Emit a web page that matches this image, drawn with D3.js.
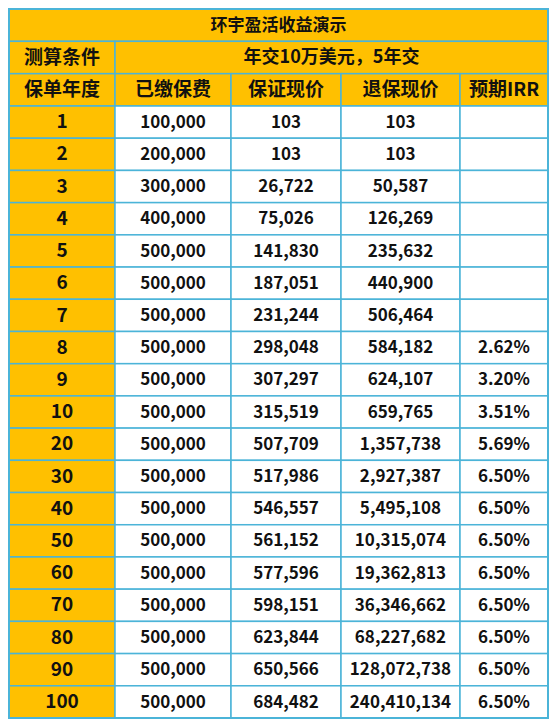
<!DOCTYPE html>
<html>
<head>
<meta charset="utf-8" />
<script src="https://cdnjs.cloudflare.com/ajax/libs/d3/7.8.5/d3.min.js"></script>
<style>
body { margin: 0; padding: 0; background: #fff; }
text { font-family: "Noto Sans CJK SC", "Noto Sans", sans-serif; font-weight: bold; fill: #111; }
</style>
</head>
<body>
<svg id="chart" width="556" height="721"></svg>
<script>
var title = "环宇盈活收益演示";
var condLabel = "测算条件";
var condValue = "年交10万美元，5年交";
var headers = ["保单年度", "已缴保费", "保证现价", "退保现价", "预期IRR"];
var years = ["1","2","3","4","5","6","7","8","9","10","20","30","40","50","60","70","80","90","100"];
var paid = ["100,000","200,000","300,000","400,000","500,000","500,000","500,000","500,000","500,000","500,000","500,000","500,000","500,000","500,000","500,000","500,000","500,000","500,000","500,000"];
var guaranteed = ["103","103","26,722","75,026","141,830","187,051","231,244","298,048","307,297","315,519","507,709","517,986","546,557","561,152","577,596","598,151","623,844","650,566","684,482"];
var surrender = ["103","103","50,587","126,269","235,632","440,900","506,464","584,182","624,107","659,765","1,357,738","2,927,387","5,495,108","10,315,074","19,362,813","36,346,662","68,227,682","128,072,738","240,410,134"];
var irr = ["","","","","","","","2.62%","3.20%","3.51%","5.69%","6.50%","6.50%","6.50%","6.50%","6.50%","6.50%","6.50%","6.50%"];

var orange = "#FFC000", line = "#4BB4D8";
var svg = d3.select("#chart");
var colEdges = [9, 115, 231, 341, 460, 548];
var x = function(i){ return colEdges[i]; };
var nRows = 3 + years.length;
var y = d3.scaleLinear().domain([0, 3, nRows]).range([9, 106, 718]);

function cell(c0, c1, r, txt, fill, size) {
  svg.append("rect").attr("x", x(c0)).attr("y", y(r))
    .attr("width", x(c1) - x(c0)).attr("height", y(r + 1) - y(r))
    .attr("fill", fill).attr("stroke", line).attr("stroke-width", 1.5);
  svg.append("text").attr("x", (x(c0) + x(c1)) / 2).attr("y", (y(r) + y(r + 1)) / 2 + 1)
    .attr("text-anchor", "middle").attr("dominant-baseline", "middle")
    .attr("font-size", size || 17).text(txt);
}

cell(0, 5, 0, title, orange, 17);
cell(0, 1, 1, condLabel, orange, 19);
cell(1, 5, 1, condValue, orange, 18);
headers.forEach(function(h, i){ cell(i, i + 1, 2, h, orange, 19); });
years.forEach(function(yr, i){
  var r = 3 + i;
  cell(0, 1, r, yr, orange, 19);
  cell(1, 2, r, paid[i], "#fff", 17);
  cell(2, 3, r, guaranteed[i], "#fff", 17);
  cell(3, 4, r, surrender[i], "#fff", 17);
  cell(4, 5, r, irr[i], "#fff", 17);
});
svg.append("rect").attr("x", x(0)).attr("y", y(0)).attr("width", x(5) - x(0)).attr("height", y(nRows) - y(0))
  .attr("fill", "none").attr("stroke", line).attr("stroke-width", 2);
</script>
</body>
</html>
